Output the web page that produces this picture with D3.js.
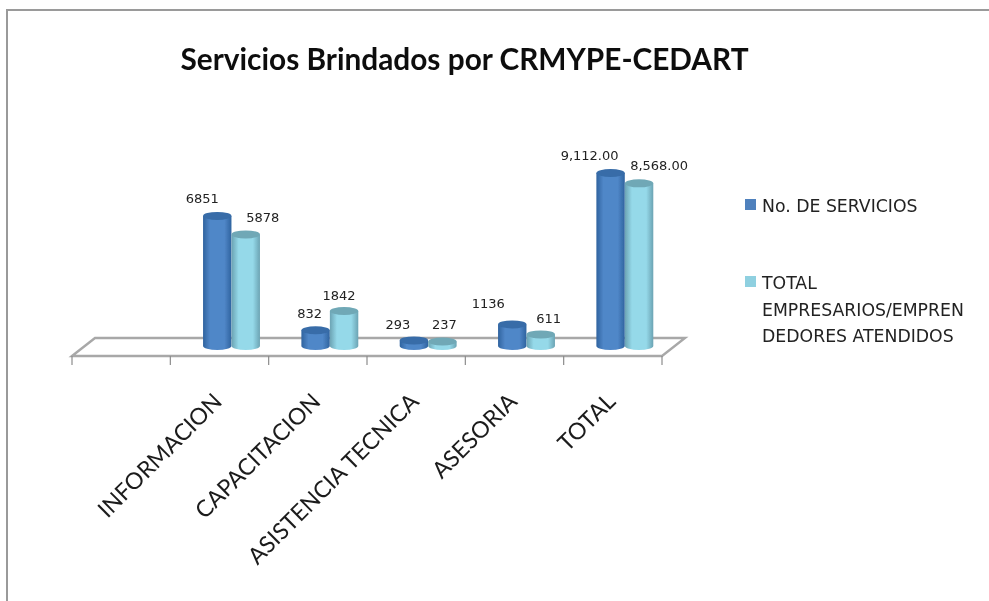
<!DOCTYPE html>
<html><head><meta charset="utf-8">
<script src="https://cdn.jsdelivr.net/npm/d3@7/dist/d3.min.js"></script>
<style>html,body{margin:0;padding:0;background:#fff;overflow:hidden}</style>
</head><body><div id="chart"></div>
<script>
const titleText = "Servicios Brindados por CRMYPE-CEDART";
const categories = ["", "INFORMACION", "CAPACITACION", "ASISTENCIA TECNICA", "ASESORIA", "TOTAL"];
const seriesNames = ["No. DE SERVICIOS", "TOTAL EMPRESARIOS/EMPRENDEDORES ATENDIDOS"];
const servicios = [null, 6851, 832, 293, 1136, 9112];
const empresarios = [null, 5878, 1842, 237, 611, 8568];
const serviciosLabels = ["", "6851", "832", "293", "1136", "9,112.00"];
const empresariosLabels = ["", "5878", "1842", "237", "611", "8,568.00"];
const legendLines = [["No. DE SERVICIOS"], ["TOTAL", "EMPRESARIOS/EMPREN", "DEDORES ATENDIDOS"]];

// layout only
const W = 989, H = 601;
const depthX = 23, depthY = 18, floorFront = 356;
const labelNudge = [
  [[0,0],[-15,-13],[-6,-12],[-16,-11],[-24,-16],[-21,-13]],
  [[0,0],[17,-12],[-5,-11],[2,-12.5],[8,-11],[20,-13]]
];
const palette = [
  {edge:"#2f639f", mid:"#5087c8", top:"#376ca8", sw:"#4f81bd"},
  {edge:"#6ba3b3", mid:"#95d9e9", top:"#6fa8b6", sw:"#8fd0e0"}
];

const svg = d3.select("#chart").append("svg").attr("width", W).attr("height", H)
  .style("display","block").style("background","#fff");
const defs = svg.append("defs");
defs.append("filter").attr("id","soft").attr("x","-5%").attr("y","-5%").attr("width","110%").attr("height","110%")
  .append("feGaussianBlur").attr("stdDeviation",0.5);
palette.forEach((p,i)=>{
  const g = defs.append("linearGradient").attr("id","cyl"+i);
  [[0,p.edge],[0.25,p.mid],[0.75,p.mid],[1,p.edge]].forEach(([o,c])=>
    g.append("stop").attr("offset",o).attr("stop-color",c));
});

const root = svg.append("g").attr("filter","url(#soft)");

// chart frame (top and left edges only)
root.append("path").attr("d",`M7,${H} V10 H${W}`).attr("fill","none").attr("stroke","#9a9a9a").attr("stroke-width",2);

root.append("text").text(titleText).attr("x",464.5).attr("y",70)
  .attr("text-anchor","middle").attr("font-family","Lato").attr("font-weight",700)
  .attr("font-size",29.8).attr("fill","#111");

const x = d3.scaleBand().domain(d3.range(categories.length)).range([72,662]);
const inner = d3.scaleBand().domain([0,1]).range([0,57]);
const y = d3.scaleLinear().domain([0,9112]).range([346,173]);

// floor
const floor = d3.path();
floor.moveTo(72,floorFront); floor.lineTo(72+depthX,floorFront-depthY);
floor.lineTo(662+depthX,floorFront-depthY); floor.lineTo(662,floorFront); floor.closePath();
root.append("path").attr("d",floor.toString()).attr("fill","#fff").attr("stroke","#a8a8a8").attr("stroke-width",2.4);

// axis
const axisG = root.append("g").attr("transform",`translate(0,${floorFront})`);
const edges = d3.range(categories.length+1).map(i=> i<categories.length ? x(i) : x.range()[1]);
axisG.selectAll("line").data(edges).join("line")
  .attr("x1",d=>d).attr("x2",d=>d).attr("y1",0).attr("y2",9)
  .attr("stroke","#8c8c8c").attr("stroke-width",1.2);

// category labels
root.append("g").selectAll("text").data(categories).join("text")
  .text(d=>d)
  .attr("text-anchor","end")
  .attr("transform",(d,i)=>`translate(${x(i)+x.bandwidth()/2+4},${floorFront+47}) rotate(-45)`)
  .attr("font-family","Lato").attr("font-size",23).attr("fill","#1a1a1a");

// cylinders
const rx = 14.2, ry = 4;
[servicios, empresarios].forEach((vals,s)=>{
  const g = root.append("g");
  const items = vals.map((v,i)=>({v,i})).filter(d=>d.v!==null);
  const cx = d => x(d.i)+x.bandwidth()/2 + 12 - 28.5 + inner(s) + inner.bandwidth()/2;
  g.selectAll("path").data(items).join("path")
    .attr("d",d=>`M${cx(d)-rx},${y(d.v)} L${cx(d)-rx},${y(0)} A${rx},${ry} 0 0 0 ${cx(d)+rx},${y(0)} L${cx(d)+rx},${y(d.v)} Z`)
    .attr("fill",`url(#cyl${s})`);
  g.selectAll("ellipse").data(items).join("ellipse")
    .attr("cx",cx).attr("cy",d=>y(d.v)).attr("rx",rx).attr("ry",ry).attr("fill",palette[s].top);
});

// data labels
[serviciosLabels, empresariosLabels].forEach((labels,s)=>{
  const vals = s ? empresarios : servicios;
  const items = labels.map((t,i)=>({t,i,v:vals[i]})).filter(d=>d.v!==null);
  root.append("g").selectAll("text").data(items).join("text")
    .text(d=>d.t)
    .attr("x",d=>x(d.i)+x.bandwidth()/2 + 12 - 28.5 + inner(s) + inner.bandwidth()/2 + labelNudge[s][d.i][0])
    .attr("y",d=>y(d.v)+labelNudge[s][d.i][1])
    .attr("text-anchor","middle").attr("font-family","DejaVu Sans").attr("font-size",13).attr("fill","#222");
});

// legend
const legendY = [212, 289];
legendLines.forEach((lines,i)=>{
  root.append("rect").attr("x",745).attr("y",legendY[i]-13).attr("width",11).attr("height",11).attr("fill",palette[i].sw);
  root.append("g").selectAll("text").data(lines).join("text")
    .text(d=>d).attr("x",762).attr("y",(d,j)=>legendY[i]+j*26.5)
    .attr("font-family","DejaVu Sans").attr("font-size",17.3).attr("fill","#222");
});
</script></body></html>
